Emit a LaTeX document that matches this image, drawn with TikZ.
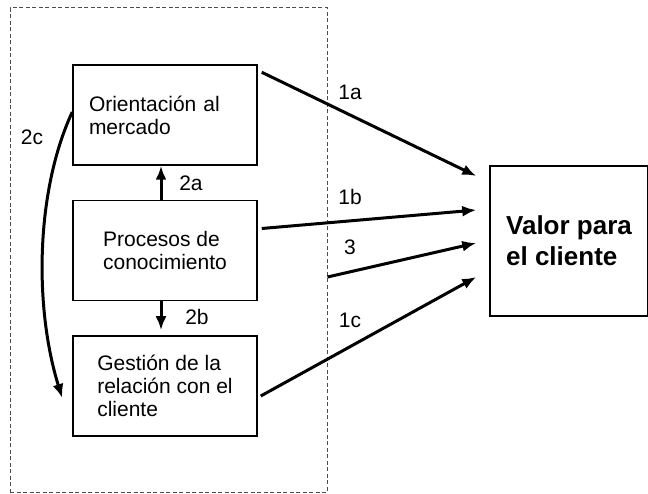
\documentclass[tikz,border=0pt]{standalone}
\usepackage{fontspec}
\setmainfont{Liberation Sans}
\usetikzlibrary{arrows.meta,positioning}

\begin{document}
\begin{tikzpicture}[x=1pt,y=-1pt,
  caja/.style={draw,line width=1.5pt,minimum width=184pt,minimum height=100pt,
    align=left,inner sep=0pt,font=\fontsize{21}{23}\selectfont},
  flecha/.style={line width=3pt,-{Latex[length=14pt,width=11pt]}},
  etiq/.style={font=\fontsize{21}{23}\selectfont}]
  \useasboundingbox (0,0) rectangle (648,494);
  %dashed frame
  \node[draw=black!70,dash pattern=on 4pt off 2.5pt,line width=1pt,
    minimum width=317pt,minimum height=484pt] (marco) at (168.5,250) {};
  %boxes
  \node[caja,text width=152pt,inner xsep=16pt] (orient) at (165,115) {Orientación al\\mercado};
  \node[caja,below=34pt of orient] (proc) {Procesos de\\conocimiento};
  \node[caja,below=34pt of proc] (gestion) {Gestión de la\\relación con el\\cliente};
  \node[caja,minimum width=158pt,minimum height=150pt,
    font=\fontsize{26}{31}\selectfont\bfseries] (valor) at (569,241) {Valor para\\el cliente};
  %inner arrows
  \draw[flecha] ([xshift=-4pt]proc.north) -- ([xshift=-4pt]orient.south);
  \draw[flecha,shorten >=5pt] ([xshift=-4pt]proc.south) -- ([xshift=-4pt]gestion.north);
  \draw[flecha] ([yshift=3pt]orient.west) .. controls +(-37,80) and +(-28,-90) ..
    ([xshift=-10pt,yshift=-12pt]gestion.west);
  %arrows to the value box
  \draw[flecha] ([xshift=4pt,yshift=-8pt]orient.north east) -- ([xshift=-13pt,yshift=65pt]valor.west);
  \draw[flecha] ([xshift=4pt,yshift=22pt]proc.east) -- ([xshift=-13pt,yshift=31pt]valor.west);
  \draw[flecha] ([yshift=-27pt]marco.east) -- ([xshift=-13pt,yshift=-2pt]valor.west);
  \draw[flecha] ([xshift=3pt,yshift=-10pt]gestion.east) -- ([xshift=-13pt,yshift=-36pt]valor.west);
  %labels
  \node[etiq] (l1a) at (350,92) {1a};
  \node[etiq] (l1b) at (350,197) {1b};
  \node[etiq] (l3) at (350,247) {3};
  \node[etiq] (l1c) at (350,320) {1c};
  \node[etiq] (l2a) at (191,183) {2a};
  \node[etiq] (l2b) at (197,317) {2b};
  \node[etiq] (l2c) at (32,137) {2c};
\end{tikzpicture}
\end{document}
